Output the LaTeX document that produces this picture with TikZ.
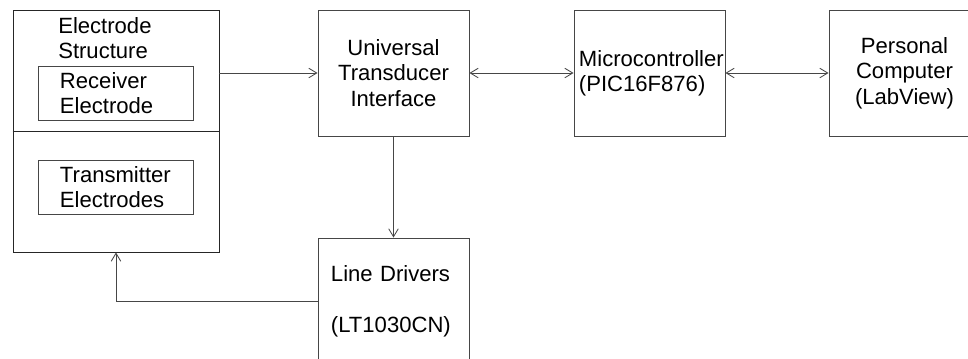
\documentclass[tikz,border=0pt]{standalone}
\usepackage{fontspec}
\setmainfont{Liberation Sans}
\usetikzlibrary{arrows.meta}
\usetikzlibrary{positioning}

\definecolor{linegray}{RGB}{70,70,70}

\begin{document}
\begin{tikzpicture}[x=0.025cm, y=-0.025cm,
        font=\fontsize{15.7}{18}\selectfont,
        block/.style={draw=linegray, line width=0.6pt, minimum width=3.775cm, minimum height=3.15cm, inner sep=0pt},
        inbox/.style={draw=linegray, line width=0.6pt, text width=2.775cm, align=left, inner xsep=0.55cm, inner ysep=0pt, minimum height=1.35cm},
        link/.style={draw=linegray, line width=0.6pt, -{Straight Barb[length=0.2cm, width=0.24cm]}},
        dlink/.style={link, {Straight Barb[length=0.2cm, width=0.24cm]}-{Straight Barb[length=0.2cm, width=0.24cm]}}]
        \useasboundingbox (0,0) rectangle (968,358);
        \clip (0,0) rectangle (968,358);

        % electrode structure
        \node[draw=black!85, line width=0.6pt, minimum width=5.15cm, minimum height=6.05cm] (es) at (116,131) {};
        \draw[draw=black!85, line width=0.6pt] (es.west) -- (es.east);
        \node[anchor=west, align=left, inner sep=0pt] (estitle) at (58,38) {Electrode\\Structure};
        \node[inbox] (rcv) at (115.5,93) {Receiver\\Electrode};
        \node[inbox] (tx) at (115.5,187) {Transmitter\\Electrodes};

        % blocks
        \node[block, align=center] (uti) at (393.5,73) {Universal\\Transducer\\Interface};
        \node[block, align=left, text width=3.525cm, inner xsep=0.125cm] (mcu) at (649.5,73) {Microcontroller\\(PIC16F876)};
        \node[block, align=center] (pc) at (904.5,73) {Personal\\Computer\\(LabView)};
        \node[block, align=left, text width=3.125cm, inner xsep=0.325cm] (ld) at (393.5,301) {Line Drivers\\[0.65cm](LT1030CN)};

        % connections
        \draw[link] (es.east |- uti.west) -- (uti.west);
        \draw[dlink] (uti.east) -- (mcu.west);
        \draw[dlink] (mcu.east) -- (pc.west);
        \draw[link] (uti.south) -- (ld.north);
        \draw[link] (ld.west) -| (es.south);
\end{tikzpicture}
\end{document}
